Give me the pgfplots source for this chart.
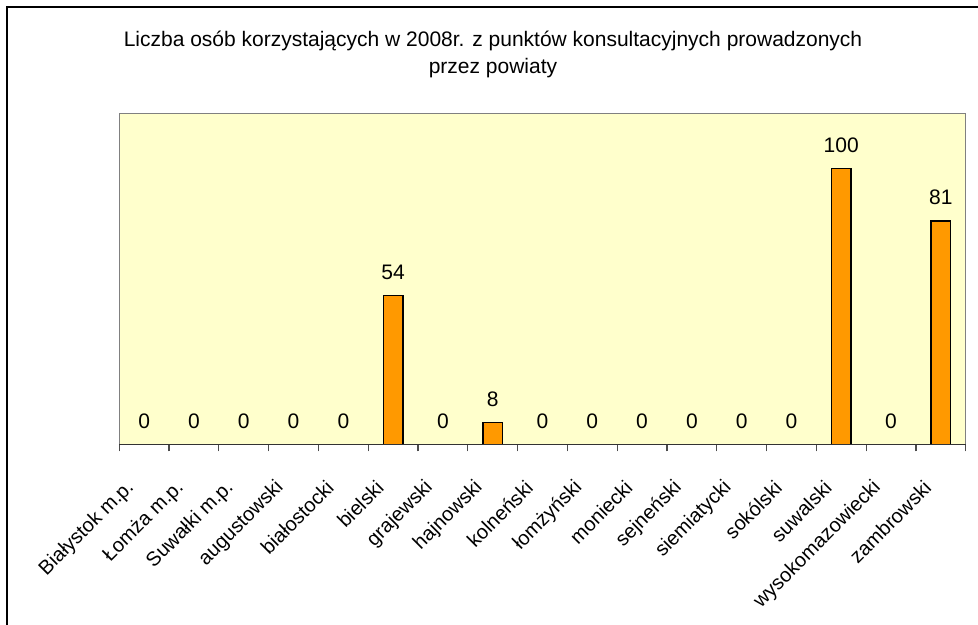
\documentclass[border=0pt]{standalone}
\usepackage{pgfplots}
\pgfplotsset{compat=1.18}
\usepackage{fontspec}
\setmainfont{Liberation Sans}
\definecolor{plotbg}{HTML}{FFFFCC}
\definecolor{barfill}{HTML}{FF9900}
\begin{document}
\begin{tikzpicture}
\useasboundingbox (0,0) rectangle (489pt,-312.5pt);
% outer chart frame (only top and left edges visible)
\draw[black, line width=1pt] (3.5pt,-320pt) -- (3.5pt,-3.5pt) -- (495pt,-3.5pt);
\node[align=center, font=\fontsize{10.5}{13.5}\selectfont] at (246.5pt,-27pt)
  {Liczba osób korzystających w 2008r. z punktów konsultacyjnych prowadzonych\\przez powiaty};
\begin{axis}[
  at={(59.65pt,-222.15pt)}, anchor=south west,
  scale only axis, width=423.2pt, height=165.5pt,
  xmin=-0.5, xmax=16.5, ymin=0, ymax=120,
  axis background/.style={fill=plotbg},
  axis line style={draw=gray, line width=0.6pt},
  ytick=\empty,
  xtick={0,...,16},
  xticklabels={Białystok m.p., Łomża m.p., Suwałki m.p., augustowski, białostocki, bielski, grajewski, hajnowski, kolneński, łomżyński, moniecki, sejneński, siemiatycki, sokólski, suwalski, wysokomazowiecki, zambrowski},
  major tick length=0pt,
  minor xtick={-0.5,0.5,...,16.5},
  minor tick length=3.5pt,
  tick align=outside,
  xtick pos=bottom,
  minor tick style={black!70, line width=0.6pt},
  xticklabel style={xshift=-6.5pt, yshift=-20pt, rotate=45, anchor=east, inner sep=0pt, font=\fontsize{10}{12}\selectfont},
  /pgf/number format/assume math mode=true,
  ybar, bar width=9.75pt,
  nodes near coords,
  nodes near coords style={font=\fontsize{10.5}{12}\selectfont, anchor=south, inner sep=0pt, yshift=7.5pt, black},
  clip=false,
]
\addplot[fill=barfill, draw=black, line width=0.7pt] coordinates {
 (0,0) (1,0) (2,0) (3,0) (4,0) (5,54) (6,0) (7,8) (8,0) (9,0) (10,0) (11,0) (12,0) (13,0) (14,100) (15,0) (16,81)
};
\draw[black!80, line width=0.7pt] (rel axis cs:0,0) -- (rel axis cs:1,0);
\end{axis}
\end{tikzpicture}
\end{document}
